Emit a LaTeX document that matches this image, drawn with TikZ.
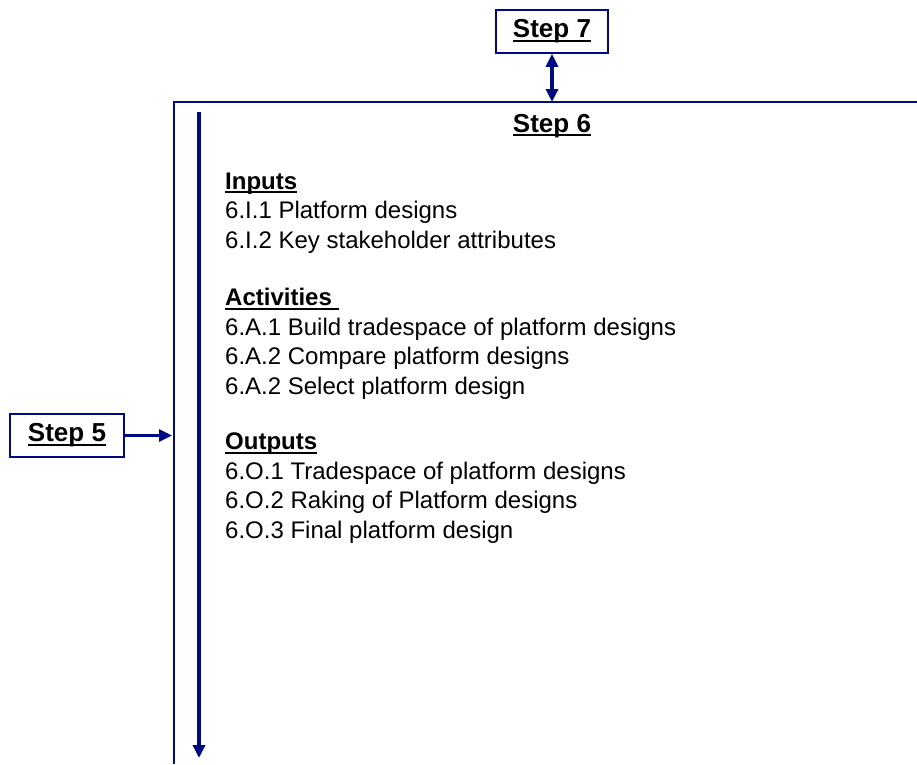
\documentclass[tikz,border=0pt]{standalone}
\usepackage{fontspec}
\setmainfont{Liberation Sans}
\usetikzlibrary{arrows.meta, positioning}

\definecolor{stepblue}{RGB}{0,10,128}

% bold heading with a heavy underline just below the baseline
\newsavebox{\ulbox}
\newcommand{\ulhead}[1]{\sbox{\ulbox}{\bfseries #1}%
  \rlap{\rule[-4pt]{\wd\ulbox}{1.8pt}}\usebox{\ulbox}}

\begin{document}
\begin{tikzpicture}[
    x=1pt, y=-1pt,
    font=\fontsize{24}{29.5}\selectfont,
    stepbox/.style={draw=stepblue, line width=1.6pt, inner sep=0pt,
                    minimum height=43pt, font=\fontsize{26}{30}\selectfont},
    textblock/.style={anchor=base west, align=left, inner sep=0pt},
    link/.style={stepblue, line width=3pt,
                 -{Triangle[length=13pt, width=12pt]}}
  ]
  \useasboundingbox (0,0) rectangle (917,764);

  % neighbouring steps
  \node[stepbox, minimum width=112pt] (step7) at (552,31.5) {\ulhead{Step 7}};
  \node[stepbox, minimum width=114pt] (step5) at (67,435.5) {\ulhead{Step 5}};

  % frame of step 6
  \coordinate (corner) at (174,102);
  \coordinate (topend) at (917,102);
  \coordinate (leftend) at (174,764);
  \coordinate (top7) at (552,102);
  \coordinate (left5) at (172,435.5);
  \draw[stepblue, line width=2pt] (topend) -- (corner) -- (leftend);

  \node[anchor=base] (step6) at (552,132)
    {\fontsize{26}{30}\selectfont\ulhead{Step 6}};

  % contents of step 6 (base anchor sits on the last line)
  \node[textblock] (inputs) at (225,248)
    {\ulhead{Inputs}\\
     6.I.1 Platform designs\\
     6.I.2 Key stakeholder attributes};
  \node[textblock] (activities) at (225,394)
    {\ulhead{Activities\ }\\
     6.A.1 Build tradespace of platform designs\\
     6.A.2 Compare platform designs\\
     6.A.2 Select platform design};
  \node[textblock] (outputs) at (225,538)
    {\ulhead{Outputs}\\
     6.O.1 Tradespace of platform designs\\
     6.O.2 Raking of Platform designs\\
     6.O.3 Final platform design};

  % flow arrows
  \coordinate (flowtop) at (199,112);
  \coordinate (flowend) at (199,758);
  \draw[link, line width=4pt] (flowtop) -- (flowend);
  \draw[link, {Triangle[length=13pt, width=12pt]}-{Triangle[length=13pt, width=12pt]},
        line width=4pt] (step7) -- (top7);
  \draw[link] (step5) -- (left5);
\end{tikzpicture}
\end{document}
